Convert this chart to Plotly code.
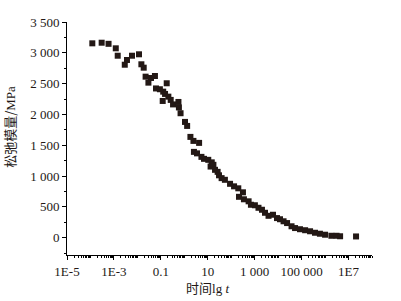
import plotly.graph_objects as go

# time t (s) and relaxation modulus (MPa)
time_t = [1.2e-4, 3.0e-4, 5.9e-4, 1.2e-3, 1.45e-3, 2.9e-3, 3.6e-3, 5.9e-3, 1.17e-2, 1.48e-2,
          1.86e-2, 2.24e-2, 2.95e-2, 3.8e-2, 5.6e-2, 6.2e-2, 9.1e-2, 0.126, 0.178, 0.120,
          0.151, 0.209, 0.263, 0.331, 0.562, 0.589, 0.692, 1.07, 1.32, 1.82,
          2.45, 4.27, 2.57, 3.47, 5.37, 6.92, 10.5, 14.8, 13.2, 17.4,
          20.4, 26.3, 30.2, 38.9, 53.7, 89.1, 132, 200, 316, 214,
          347, 550, 692, 1020, 1450, 2040, 2750, 3890, 6030, 8910,
          12000, 17000, 24000, 37200, 52500, 85100, 141000, 229000, 372000, 603000,
          1.0e6, 1.86e6, 3.09e6, 4.37e6, 2.09e7]
modulus = [3154, 3164, 3146, 3073, 2953, 2807, 2884, 2953, 2976, 2814,
           2759, 2613, 2516, 2592, 2624, 2422, 2409, 2370, 2506, 2219,
           2333, 2289, 2236, 2163, 2203, 2114, 2020, 1879, 1814, 1636,
           1571, 1539, 1393, 1369, 1312, 1280, 1264, 1223, 1155, 1183,
           1102, 1069, 1013, 967, 940, 875, 834, 802, 737, 664,
           624, 591, 535, 527, 486, 454, 405, 356, 373, 319,
           300, 267, 238, 186, 157, 138, 122, 105, 81, 65,
           49, 32, 32, 24, 21]

x_tickvals = [1e-5, 1e-3, 0.1, 10, 1000, 1e5, 1e7]
x_ticktext = ["1E-5", "1E-3", "0.1", "10", "1 000", "100 000", "1E7"]
y_tickvals = [0, 500, 1000, 1500, 2000, 2500, 3000, 3500]
y_ticktext = ["0", "500", "1 000", "1 500", "2 000", "2 500", "3 000", "3 500"]

ink = "#231815"
serif = "Liberation Serif"
cjk = "Noto Sans CJK SC"

fig = go.Figure()
fig.add_trace(go.Scatter(
    x=time_t, y=modulus, mode="markers",
    marker=dict(symbol="square", size=6, color=ink, line=dict(width=0)),
    showlegend=False,
))

fig.update_xaxes(
    type="log", range=[-5, 8],
    tickmode="array", tickvals=x_tickvals, ticktext=x_ticktext,
    showline=True, linecolor="black", linewidth=1,
    ticks="outside", ticklen=4, tickcolor="black", tickwidth=1,
    minor=dict(ticks="outside", ticklen=2, tickcolor="black", dtick="D1", showgrid=False),
    showgrid=False, zeroline=False,
    tickfont=dict(family=serif, size=13, color=ink),
)
fig.update_yaxes(
    range=[-280, 3500],
    tickmode="array", tickvals=y_tickvals, ticktext=y_ticktext,
    showline=True, linecolor="black", linewidth=1,
    ticks="outside", ticklen=4, tickcolor="black", tickwidth=1,
    minor=dict(ticks="outside", ticklen=2, tickcolor="black", dtick=250, showgrid=False),
    showgrid=False, zeroline=False,
    tickfont=dict(family=serif, size=13, color=ink),
)

fig.add_annotation(
    text="时间<span style='font-family:Liberation Serif'>lg <i>t</i></span>",
    xref="paper", yref="paper", x=0.46, y=0,
    yshift=-32, showarrow=False, xanchor="center", yanchor="middle",
    font=dict(family=cjk, size=13, color=ink),
)
fig.add_annotation(
    text="松弛模量/<span style='font-family:Liberation Serif'>MPa</span>",
    xref="paper", yref="paper", x=0, y=0.55,
    xshift=-57, showarrow=False, textangle=-90, xanchor="center", yanchor="middle",
    font=dict(family=cjk, size=13, color=ink),
)

fig.update_layout(
    width=401, height=301,
    margin=dict(l=67, r=29, t=22, b=46),
    plot_bgcolor="white", paper_bgcolor="white",
)

fig.write_html("out.html", config={"displayModeBar": False},
               post_script="document.body.style.margin='0';")
